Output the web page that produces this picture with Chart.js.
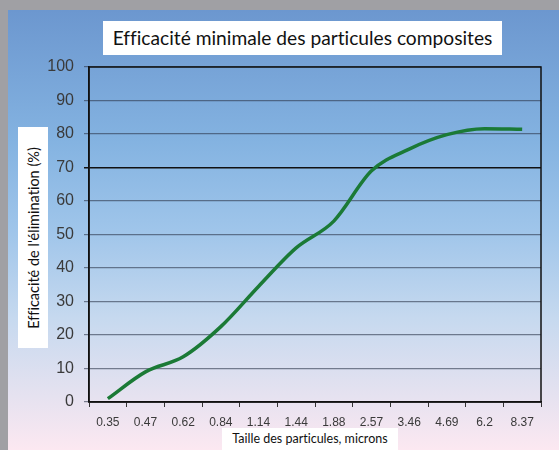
<!DOCTYPE html>
<html>
<head>
<meta charset="utf-8">
<script src="https://cdn.jsdelivr.net/npm/chart.js@4"></script>
<style>
  html, body { margin: 0; padding: 0; }
  body { width: 559px; height: 450px; background: #a0a0a4; position: relative; overflow: hidden; }
  #bg {
    position: absolute; left: 8px; top: 10px; width: 551px; height: 440px;
    background: linear-gradient(to bottom, #6c97cf 0%, #84b3e1 30%, #9fc5ea 50%, #c6d9ef 70%, #e6e2f0 88%, #fce8f1 100%);
  }
  #wrap { position: absolute; left: 0; top: 0; width: 559px; height: 450px; }
  .box { position: absolute; background: #fff; color: #111; font-family: Lato, "Open Sans", sans-serif; white-space: nowrap; font-variant-ligatures: none; }
  #title { left: 103px; top: 21px; width: 399px; height: 34px; line-height: 34px; font-size: 19.2px; text-align: center; }
  #ylab { left: 18px; top: 127px; width: 30px; height: 221px; }
  #ylab span { position: absolute; left: 50%; top: 50%; transform: translate(-50%, -50%) rotate(-90deg); font-size: 14.5px; }
  #xlab { left: 222px; top: 428px; width: 176px; height: 22px; line-height: 22px; font-size: 12.5px; text-align: center; }
</style>
</head>
<body>
<div id="bg"></div>
<div id="wrap"><canvas id="chart" width="559" height="450"></canvas></div>
<div class="box" id="title">Efficacité minimale des particules composites</div>
<div class="box" id="ylab"><span>Efficacité de l'élimination (%)</span></div>
<div class="box" id="xlab">Taille des particules, microns</div>
<script>
const particleSizes = ["0.35", "0.47", "0.62", "0.84", "1.14", "1.44", "1.88", "2.57", "3.46", "4.69", "6.2", "8.37"];
const efficiency = [1, 9, 13.5, 22.5, 34.5, 46, 54, 69, 75.5, 79.8, 81.6, 81.4];
const yTicks = [0, 10, 20, 30, 40, 50, 60, 70, 80, 90, 100];

// frame round the plot area
const frame = {
  id: "frame",
  afterDraw(chart) {
    const a = chart.chartArea, c = chart.ctx;
    c.save();
    c.strokeStyle = "#111";
    c.lineWidth = 1.5;
    c.strokeRect(a.left, a.top, a.right - a.left, a.bottom - a.top);
    c.restore();
  }
};

new Chart(document.getElementById("chart"), {
  type: "line",
  data: {
    labels: particleSizes,
    datasets: [{
      data: efficiency,
      borderColor: "#1b7a36",
      borderWidth: 3.5,
      pointRadius: 0,
      tension: 0.4,
      cubicInterpolationMode: "monotone",
      fill: false
    }]
  },
  options: {
    responsive: false,
    animation: false,
    layout: { padding: { top: 67, right: 18, left: 0, bottom: 0 } },
    plugins: { legend: { display: false }, tooltip: { enabled: false } },
    scales: {
      x: {
        offset: true,
        afterFit: s => { s.height = 48; },
        grid: { drawOnChartArea: false, offset: true, tickLength: 5, color: "#333" },
        border: { color: "#111", width: 1.5 },
        ticks: { padding: 8, color: "#3a3a3a", font: { family: "Liberation Sans", size: 12 }, maxRotation: 0, autoSkip: false }
      },
      y: {
        min: 0, max: 100,
        afterFit: s => { s.width = 89; },
        afterBuildTicks: s => { s.ticks = yTicks.map(v => ({ value: v })); },
        grid: {
          tickLength: 5,
          color: c => c.tick && c.tick.value === 70 ? "#111" : "rgba(45,55,75,0.6)",
          lineWidth: c => c.tick && c.tick.value === 70 ? 1.5 : 1.2
        },
        border: { color: "#111", width: 1.5 },
        ticks: { padding: 10, color: "#3a3a3a", font: { family: "Liberation Sans", size: 16 } }
      }
    }
  },
  plugins: [frame]
});
</script>
</body>
</html>
